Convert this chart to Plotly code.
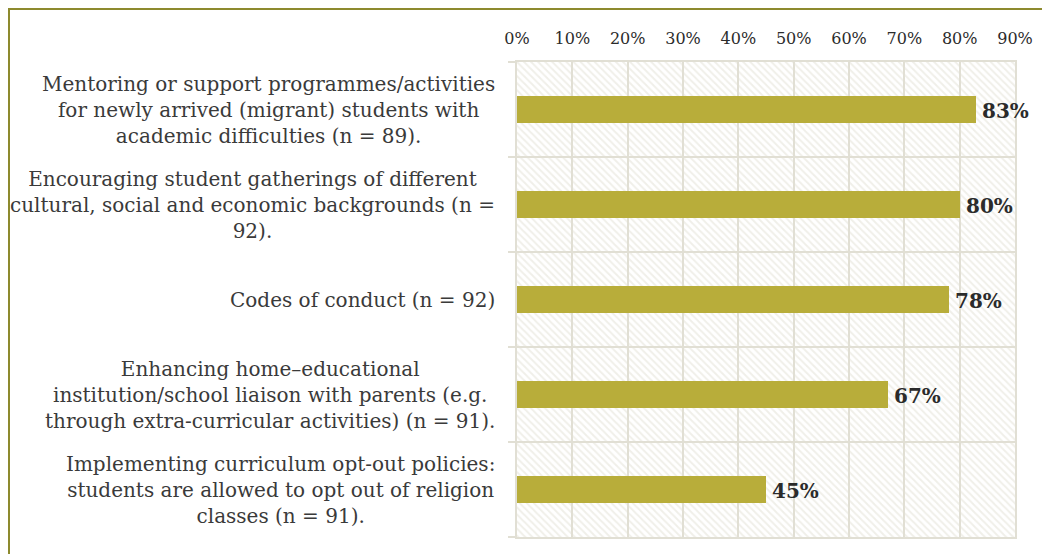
import plotly.graph_objects as go

categories = [
    "Mentoring or support programmes/activities<br>for newly arrived (migrant) students with<br>academic difficulties (n = 89).",
    "Encouraging student gatherings of different<br>cultural, social and economic backgrounds (n =<br>92).",
    "Codes of conduct (n = 92)",
    "Enhancing home–educational<br>institution/school liaison with parents (e.g.<br>through extra-curricular activities) (n = 91).",
    "Implementing curriculum opt-out policies:<br>students are allowed to opt out of religion<br>classes (n = 91).",
]
values = [83, 80, 78, 67, 45]
tick_vals = [0, 10, 20, 30, 40, 50, 60, 70, 80, 90]
tick_text = ["0%", "10%", "20%", "30%", "40%", "50%", "60%", "70%", "80%", "90%"]

# page has an 8px body margin; figure placed at (8, 8)
OFF = 8
W, H = 1050 - OFF, 554 - OFF
L, R, T, B = 517 - OFF, 35, 62 - OFF, 17
pw, ph = W - L - R, H - T - B

def px_x(px):  # page pixel -> paper x
    return (px - OFF - L) / pw

def px_y(py):  # page pixel -> paper y
    return (H - B - (py - OFF)) / ph

GRID = "#e1dfd4"
BAR = "#b8ad3a"
BORDER = "#8d8a2e"
FONT = "DejaVu Serif"

ycat = list(range(len(categories)))

fig = go.Figure()
# hatched background
fig.add_trace(go.Bar(
    y=ycat, x=[tick_vals[-1]] * len(categories), orientation="h", width=1,
    marker=dict(color="rgba(0,0,0,0)", line=dict(width=0),
                pattern=dict(shape="\\", size=5, solidity=0.4,
                             fgcolor="#e2e0d4", bgcolor="rgba(0,0,0,0)", fillmode="overlay")),
    hoverinfo="skip", showlegend=False,
))
fig.add_trace(go.Bar(
    y=ycat, x=values, orientation="h", width=0.28,
    marker=dict(color=BAR, line=dict(width=0)),
    hoverinfo="x", showlegend=False,
))

for i, v in enumerate(values):
    fig.add_annotation(
        x=v, xref="x", y=i, yref="y", text=f"{v}%", showarrow=False,
        xanchor="left", yanchor="middle", xshift=4, yshift=-1,
        font=dict(family=FONT, size=20, color="#2b2b2b", weight="bold"),
    )

for i, c in enumerate(categories):
    fig.add_annotation(
        x=px_x(497), xref="paper", y=i, yref="y", text=c, showarrow=False,
        xanchor="right", yanchor="middle", align="center",
        font=dict(family=FONT, size=20, color="#3a3a3a"),
    )

# outer border (top and left)
fig.add_shape(type="line", xref="paper", yref="paper", x0=px_x(9), x1=px_x(1052),
              y0=px_y(9), y1=px_y(9), line=dict(color=BORDER, width=2))
fig.add_shape(type="line", xref="paper", yref="paper", x0=px_x(9), x1=px_x(9),
              y0=px_y(8), y1=px_y(556), line=dict(color=BORDER, width=2))

fig.update_layout(
    width=W, height=H, margin=dict(l=L, r=R, t=T, b=B, autoexpand=False),
    paper_bgcolor="white", plot_bgcolor="white", barmode="overlay",
    bargap=0,
    xaxis=dict(side="top", range=[0, 90], tickvals=tick_vals, ticktext=tick_text,
               showgrid=True, gridcolor=GRID, gridwidth=1.5, zeroline=False,
               showline=True, mirror=True, linecolor=GRID, linewidth=1.5,
               ticks="", ticklabelstandoff=10,
               tickfont=dict(family=FONT, size=16, color="#2b2b2b")),
    yaxis=dict(type="linear", range=[4.5, -0.5], tickvals=[-0.5, 0.5, 1.5, 2.5, 3.5, 4.5],
               showticklabels=False, showgrid=True, gridcolor=GRID, gridwidth=1.5,
               zeroline=False, ticks="outside", ticklen=7, tickcolor=GRID, tickwidth=1.5,
               showline=True, mirror=True, linecolor=GRID, linewidth=1.5),
    showlegend=False,
)

fig.write_html("out.html")
